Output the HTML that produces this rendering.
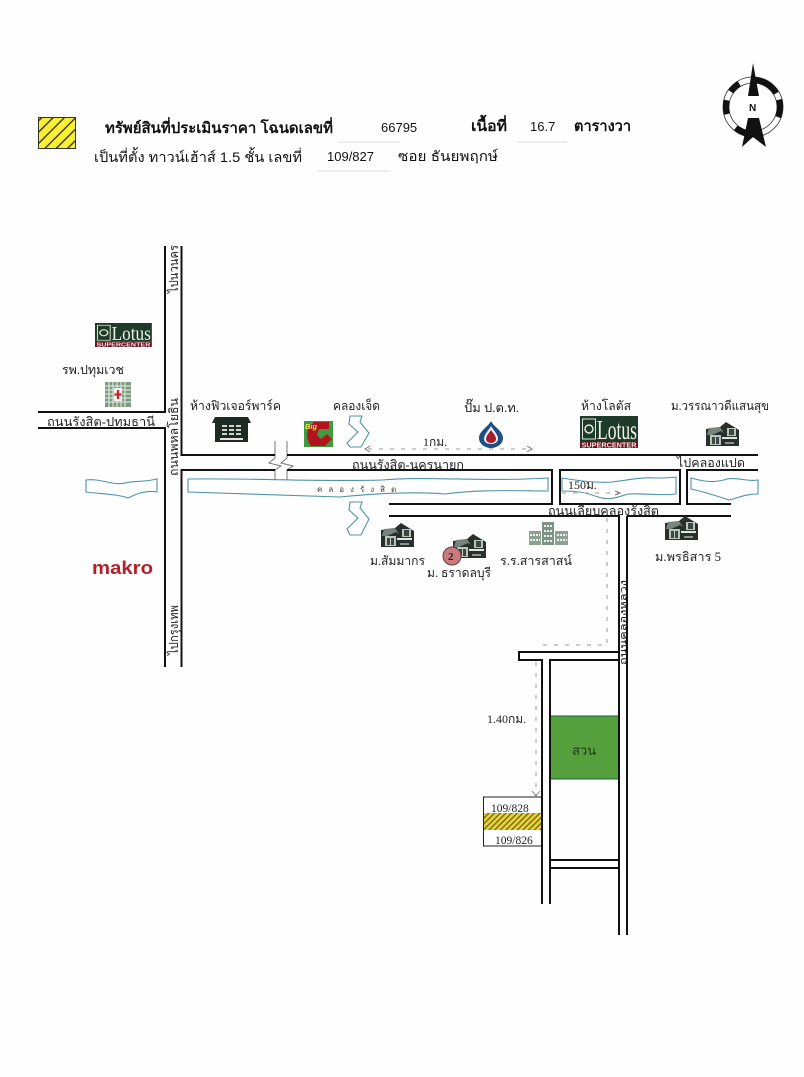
<!DOCTYPE html>
<html lang="th"><head><meta charset="utf-8"><title>แผนที่</title>
<style>
html,body{margin:0;padding:0;background:#fefefe}
svg{display:block}
text{font-family:"Liberation Serif","Noto Serif CJK SC","DejaVu Serif",serif;fill:#222}
.s{font-family:"Liberation Sans","DejaVu Sans",sans-serif;fill:#111}
.r{stroke:#111;stroke-width:2;fill:none}
.w{stroke:#4e93a6;stroke-width:1.1;fill:#fff}
.d{stroke:#999;stroke-width:1;stroke-dasharray:4 7;fill:none}
</style></head><body>
<svg width="804" height="1077" viewBox="0 0 804 1077" xmlns="http://www.w3.org/2000/svg">
<defs>
<pattern id="h" width="8" height="8" patternUnits="userSpaceOnUse" patternTransform="rotate(45)"><rect width="8" height="8" fill="#fbf02e"/><rect width="1.4" height="8" fill="#333"/></pattern>
<pattern id="h2" width="4" height="4" patternUnits="userSpaceOnUse" patternTransform="rotate(45)"><rect width="4" height="4" fill="#e9d431"/><rect width="1.3" height="4" fill="#6b6220"/></pattern>
<g id="house">
<path d="M0 7L14 5L20 0L33 8V24H0Z" fill="#27302c"/>
<path d="M1 13L3 6L14 5L18 11L15 9L6 13Z" fill="#76857b"/>
<rect x="4" y="13" width="11" height="10" fill="#b9c4ba"/><rect x="6" y="15" width="7" height="7" fill="#3c4642"/><path d="M9.500 15V22" stroke="#c8d0c8"/>
<rect x="21" y="6" width="9" height="8" fill="#b9c4ba"/><rect x="23" y="7" width="5" height="6" fill="#3c4642"/>
<rect x="16" y="15" width="15" height="2" fill="#dfe4df"/><rect x="19" y="20" width="9" height="2" fill="#8a958c"/>
</g>
<g id="lotus">
<rect width="58" height="25" fill="#1e3a28"/><rect y="25" width="58" height="7" fill="#6b1420"/>
<rect x="2.500" y="3" width="13" height="20" fill="none" stroke="#dfe8d8" stroke-width="1"/>
<circle cx="9" cy="13" r="4" fill="none" stroke="#dfe8d8" stroke-width="1.500"/>
<text x="17" y="23" style="font-size:27px;fill:#eef2e6" textLength="40" lengthAdjust="spacingAndGlyphs">Lotus</text>
<text class="s" x="1.500" y="31.300" style="font-size:7px;font-weight:bold;fill:#f4e8e8" textLength="55" lengthAdjust="spacingAndGlyphs">SUPERCENTER</text>
</g>
</defs>

<rect width="804" height="1077" fill="#fefefe"/>

<!-- Legend and header -->
<rect x="38.500" y="117.500" width="37" height="31" fill="url(#h)" stroke="#333"/>
<g class="hdr">
<text class="s" x="105" y="133" style="font-size:15px;font-weight:bold" textLength="228" lengthAdjust="spacingAndGlyphs">ทรัพย์สินที่ประเมินราคา โฉนดเลขที่</text>
<text class="s" x="381" y="132" style="font-size:13px">66795</text>
<text class="s" x="471" y="131" style="font-size:15px;font-weight:bold" textLength="36" lengthAdjust="spacingAndGlyphs">เนื้อที่</text>
<text class="s" x="530" y="131" style="font-size:13px">16.7</text>
<text class="s" x="574" y="131" style="font-size:15px;font-weight:bold" textLength="57" lengthAdjust="spacingAndGlyphs">ตารางวา</text>
<text class="s" x="94" y="162" style="font-size:14px" textLength="208" lengthAdjust="spacingAndGlyphs">เป็นที่ตั้ง ทาวน์เฮ้าส์ 1.5 ชั้น  เลขที่</text>
<text class="s" x="327" y="161" style="font-size:13px">109/827</text>
<text class="s" x="398" y="161" style="font-size:14px" textLength="100" lengthAdjust="spacingAndGlyphs">ซอย  ธันยพฤกษ์</text>
</g>
<path d="M338 142H400M517 142H567M317 171H390" stroke="#ddd" stroke-width="1" fill="none"/>

<!-- Compass -->
<g>
<circle cx="753" cy="107" r="30" fill="none" stroke="#333" stroke-width="0.800"/>
<circle cx="753" cy="107" r="24" fill="#fff" stroke="#333" stroke-width="0.800"/>
<circle cx="753" cy="107" r="27" fill="none" stroke="#111" stroke-width="6" pathLength="360" stroke-dasharray="22 78 30 35 30 20 25 30 60 15 15 0"/>
<path d="M753 63L748 96H759Z" fill="#111"/>
<path d="M748 118H759L766 147L753 137L742 147Z" fill="#111"/>
<text class="s" x="749" y="111" style="font-size:10px;font-weight:bold">N</text>
</g>

<!-- Main vertical road -->
<path class="r" d="M165 246V412H38M38 428H165V667M181.500 246V455H272M290 455H758M181.500 667V470H552V504H389M389 516H619V935M627 516H731M731 504H687V470H758M627 516V935M560 470H680V504H560ZM552 470V504"/>
<path class="r" stroke-linejoin="miter" d="M619 652H519V660H542V904M550 904V660H619M550 860H619M550 868H619"/>
<path class="r" d="M550 660V860M550 868V904"/>

<!-- Break mark across the road -->
<rect x="272" y="444" width="18" height="40" fill="#fefefe"/>
<path d="M275 441V458L269 463L281 466L275 470V480M287 441V458L281 463L293 466L287 470V480" fill="none" stroke="#777" stroke-width="1"/>
<path d="M182 455H275M287 455H300M182 470H275M287 470H300" stroke="#111" stroke-width="2" fill="none"/>

<!-- Water -->
<path class="w" d="M86 480C100 478 113 486 125 483C133 481 145 482 157 479V492C145 490 136 494 128 498C118 494 100 494 86 492Z"/>
<path class="w" d="M188 479C250 478 320 482 382 480C430 476 480 482 548 478V491C520 491 480 489 445 494C410 491 370 494 340 497L188 492Z"/>
<path class="w" d="M562 478C580 481 600 483 612 482C630 480 640 477 655 478C662 478 670 478 676 477V494C660 496 640 493 628 494C618 497 610 501 598 497C585 492 575 491 562 491Z"/>
<path class="w" d="M691 478C705 482 715 483 727 479C737 477 748 482 758 480V494C745 494 738 498 729 500C720 497 705 492 691 489Z"/>
<path class="w" d="M350 416H362L360 422L369 433L361 447H350L347 443L358 432L349 424Z"/>
<path class="w" d="M350 502H362L360 508L369 519L361 535H350L347 529L358 518L349 510Z"/>
<text x="317" y="492" style="font-size:8px;letter-spacing:6px;fill:#444">คลองรังสิต</text>

<!-- Dotted routes -->
<path class="d" d="M368 449H530"/><path d="M370 446L365 449L370 452" fill="none" stroke="#777"/><path d="M527 446L532 449L527 452" fill="none" stroke="#777"/>
<path class="d" d="M562 493H618"/><path d="M615 491L620 493L615 495" fill="none" stroke="#777"/>
<path class="d" d="M607 518V645H538"/>
<path class="d" d="M536 662V795"/><path d="M532 791L536 796L540 791" fill="none" stroke="#888"/>

<!-- Green plot -->
<rect x="551" y="716" width="67" height="63" fill="#55a03c"/>
<path d="M551 716H618M551 779H618" stroke="#163" stroke-width="1"/>
<text x="572" y="755" style="font-size:13px;fill:#1d3a18">สวน</text>

<!-- Subject lots -->
<path d="M541 797H483.500V846H541" fill="#fff" stroke="#222"/>
<rect x="484" y="813" width="57" height="17" fill="url(#h2)"/>
<text x="491" y="812" style="font-size:11.500px">109/828</text>
<text x="495" y="844" style="font-size:11.500px">109/826</text>
<text x="487" y="723" style="font-size:12px">1.40กม.</text>

<!-- Road labels -->
<text x="352" y="469" style="font-size:12.500px" textLength="112" lengthAdjust="spacingAndGlyphs">ถนนรังสิต-นครนายก</text>
<text x="47" y="426" style="font-size:12.500px" textLength="108" lengthAdjust="spacingAndGlyphs">ถนนรังสิต-ปทุมธานี</text>
<text x="548" y="515" style="font-size:12.500px" textLength="111" lengthAdjust="spacingAndGlyphs">ถนนเลียบคลองรังสิต</text>
<text x="677" y="467" style="font-size:12.500px" textLength="68" lengthAdjust="spacingAndGlyphs">ไปคลองแปด</text>
<text x="423" y="446" style="font-size:12px">1กม.</text>
<text x="568" y="489" style="font-size:12px">150ม.</text>
<text transform="translate(178 476) rotate(-90)" style="font-size:12.500px" textLength="78" lengthAdjust="spacingAndGlyphs">ถนนพหลโยธิน</text>
<text transform="translate(178 293) rotate(-90)" style="font-size:12.500px" textLength="48" lengthAdjust="spacingAndGlyphs">ไปนวนคร</text>
<text transform="translate(178 655) rotate(-90)" style="font-size:12.500px" textLength="50" lengthAdjust="spacingAndGlyphs">ไปกรุงเทพ</text>
<text transform="translate(627 665) rotate(-90)" style="font-size:10.500px;fill:#111" textLength="85" lengthAdjust="spacingAndGlyphs">ถนนคลองหลวง</text>

<!-- Place labels -->
<text x="62" y="374" style="font-size:12.500px" textLength="62" lengthAdjust="spacingAndGlyphs">รพ.ปทุมเวช</text>
<text x="190" y="410" style="font-size:12.500px" textLength="91" lengthAdjust="spacingAndGlyphs">ห้างฟิวเจอร์พาร์ค</text>
<text x="333" y="410" style="font-size:12.500px" textLength="47" lengthAdjust="spacingAndGlyphs">คลองเจ็ด</text>
<text x="464" y="412" style="font-size:12.500px" textLength="55" lengthAdjust="spacingAndGlyphs">ปั๊ม ป.ต.ท.</text>
<text x="581" y="410" style="font-size:12.500px" textLength="50" lengthAdjust="spacingAndGlyphs">ห้างโลตัส</text>
<text x="671" y="410" style="font-size:12.500px" textLength="98" lengthAdjust="spacingAndGlyphs">ม.วรรณาวดีแสนสุข</text>
<text x="370" y="565" style="font-size:12.500px" textLength="55" lengthAdjust="spacingAndGlyphs">ม.สัมมากร</text>
<text x="427" y="577" style="font-size:12.500px" textLength="64" lengthAdjust="spacingAndGlyphs">ม. ธราดลบุรี</text>
<text x="500" y="565" style="font-size:12.500px" textLength="72" lengthAdjust="spacingAndGlyphs">ร.ร.สารสาสน์</text>
<text x="655" y="561" style="font-size:12.500px" textLength="66" lengthAdjust="spacingAndGlyphs">ม.พรธิสาร 5</text>

<!-- Logos -->
<use href="#lotus" transform="translate(95 323) scale(.98 .75)"/>
<use href="#lotus" transform="translate(580 416)"/>
<text class="s" x="92" y="574" style="font-size:18px;font-weight:bold;fill:#b5202b" textLength="61" lengthAdjust="spacingAndGlyphs">makro</text>

<!-- Hospital -->
<g transform="translate(105 382)"><rect width="26" height="25" fill="#7f9a80"/>
<path d="M0 4H26M0 8H26M0 12H26M0 16H26M0 20H26M4 0V25M8 0V25M12 0V25M16 0V25M20 0V25" stroke="#e6efe6" stroke-width="1"/>
<rect x="9" y="6" width="8" height="13" fill="#f4f4f4"/><path d="M13 8V17M9.500 12.500H16.500" stroke="#c22" stroke-width="2.200"/></g>

<!-- Future Park -->
<g transform="translate(212 417)"><path d="M3 0H36L39 6H0Z" fill="#1d2b24"/><rect x="3" y="6" width="33" height="19" fill="#1d2b24"/>
<path d="M10 9H29M10 13H29M10 17H29" stroke="#cfd6cf" stroke-width="2" stroke-dasharray="5 2"/><rect x="8" y="21" width="23" height="2" fill="#dfe4df"/></g>

<!-- Big C -->
<g transform="translate(304 421)"><rect width="29" height="26" fill="#3f9a41"/>
<path d="M25 1H10C2 6 1 17 7 25H21L28 18L23 13L17 18L13 14L15 8H25Z" fill="#b0141c"/>
<text class="s" x="1" y="8" style="font-size:7.500px;font-weight:bold;font-style:italic;fill:#f4e05a">Big</text></g>

<!-- PTT -->
<g transform="translate(479 421)"><path d="M12 0C15 6 24 10 24 17C24 23 18 27 12 27C6 27 0 23 0 17C0 10 9 6 12 0Z" fill="#1d4f85"/>
<path d="M12 5C14 9 19 13 19 18C19 21 16 23 12 23C8 23 5 21 5 18C5 13 10 9 12 5Z" fill="#e8eef2"/>
<path d="M12 9C14 12 17 15 17 18C17 20 15 22 12 22C9 22 7 20 7 18C7 15 10 12 12 9Z" fill="#a81d2a"/></g>

<!-- Houses -->
<use href="#house" x="381" y="523"/>
<use href="#house" x="453" y="534"/>
<use href="#house" x="706" y="422"/>
<use href="#house" x="665" y="516"/>
<circle cx="452" cy="556" r="9" fill="#c77b7d" stroke="#6b3e3e"/>
<text x="448" y="560" style="font-size:11px;font-weight:bold">2</text>

<!-- School -->
<g transform="translate(529 522)"><rect y="9" width="12" height="14" fill="#8da193"/><rect x="13" y="0" width="12" height="23" fill="#7c9385"/><rect x="26" y="9" width="13" height="14" fill="#8da193"/>
<path d="M1 13H11M1 18H11M15 4H23M15 9H23M15 14H23M15 19H23M28 13H38M28 18H38" stroke="#eef2ee" stroke-width="2" stroke-dasharray="2 1"/></g>
</svg>
</body></html>
